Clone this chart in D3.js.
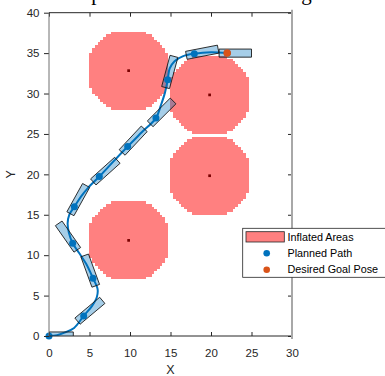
<!DOCTYPE html>
<html><head><meta charset="utf-8">
<script src="https://cdn.jsdelivr.net/npm/d3@7"></script>
<style>
body{margin:0;background:#fff;}
svg{display:block;font-family:"Liberation Sans",Arial,sans-serif;}
</style>
</head><body>
<svg id="c" width="385" height="376"></svg>
<script>
// ---------- data ----------
const titleText = "Feasible path around the obstacle grid";
const xTicks = [0, 5, 10, 15, 20, 25, 30];
const yTicks = [0, 5, 10, 15, 20, 25, 30, 35, 40];
const xLabel = "X", yLabel = "Y";

// obstacle cells (centres of the inflated areas)
const obstacleX = [9.83, 19.83, 19.83, 9.83];
const obstacleY = [32.83, 29.83, 19.83, 11.83];
const cellSize = 1 / 3;        // map resolution (3 cells per unit)
const inflateCells = 14;       // max cell offset of inflation
const inflateR2 = 235;         // squared inflation radius in cells

// planned path
const pathX = [0, 1.0, 1.9, 3.1, 4.28, 5.3, 5.9, 6.0, 5.43, 4.6, 3.7, 2.92, 2.45, 2.3, 2.5, 3.13, 3.95, 4.8, 6.21, 7.96, 9.71, 11.45, 13.2, 13.83, 14.3, 14.65, 14.9, 15.5, 16.5, 17.94, 20.0, 22.0];
const pathY = [0, 0.1, 0.41, 1.0, 2.48, 3.7, 4.8, 5.8, 7.15, 8.9, 10.3, 11.48, 12.8, 13.95, 15.0, 16.0, 17.25, 18.3, 19.73, 21.6, 23.44, 25.2, 26.96, 28.6, 30.05, 31.7, 33.1, 34.0, 34.6, 34.92, 35.1, 35.0];

// vehicle poses along the path
const poseX = [0, 4.28, 5.43, 2.92, 3.13, 6.21, 9.71, 13.2, 14.65, 17.94, 22];
const poseY = [0, 2.48, 7.15, 11.48, 16.0, 19.73, 23.44, 26.96, 31.7, 34.92, 35];
const poseTheta = [0, 40, 110, 125, 61, 42, 47, 45, 75, 11, 0];
const vehicleRear = 1, vehicleFront = 3, vehicleWidth = 1;

const goalX = [22], goalY = [35];
const legendLabels = ["Inflated Areas", "Planned Path", "Desired Goal Pose"];

// ---------- drawing ----------
const svg = d3.select("#c");
const x = d3.scaleLinear().domain([0, 30]).range([49, 292]);
const y = d3.scaleLinear().domain([0, 40]).range([336, 12.7]);
const axisColor = "#262626";

svg.append("defs").append("clipPath").attr("id", "plotclip")
  .append("rect").attr("x", x(0)).attr("y", y(40))
  .attr("width", x(30) - x(0)).attr("height", y(0) - y(40));

// title (above the window, only descenders show)
svg.append("text").attr("x", 16).attr("y", 0)
  .attr("font-family", "'Liberation Serif','Times New Roman',serif")
  .attr("font-size", 21).attr("fill", "#000").text(titleText);

const plot = svg.append("g").attr("clip-path", "url(#plotclip)");

// inflated areas as grid cells
const cells = [];
obstacleX.forEach((ox, k) => {
  const oy = obstacleY[k];
  for (let i = -inflateCells; i <= inflateCells; i++)
    for (let j = -inflateCells; j <= inflateCells; j++)
      if (i * i + j * j <= inflateR2) cells.push([ox + i * cellSize, oy + j * cellSize]);
});
plot.append("g").attr("shape-rendering", "crispEdges").selectAll("rect").data(cells).join("rect")
  .attr("x", d => x(d[0] - cellSize / 2))
  .attr("y", d => y(d[1] + cellSize / 2))
  .attr("width", d => x(d[0] + cellSize / 2) - x(d[0] - cellSize / 2))
  .attr("height", d => y(d[1] - cellSize / 2) - y(d[1] + cellSize / 2))
  .attr("fill", "#ff8080");

// obstacle centre cells
plot.append("g").selectAll("rect").data(obstacleX.map((v, i) => [v, obstacleY[i]])).join("rect")
  .attr("x", d => x(d[0] - cellSize / 2))
  .attr("y", d => y(d[1] + cellSize / 2))
  .attr("width", d => x(d[0] + cellSize / 2) - x(d[0] - cellSize / 2))
  .attr("height", d => y(d[1] - cellSize / 2) - y(d[1] + cellSize / 2))
  .attr("fill", "#7a0000");

// path line
const pathPts = pathX.map((v, i) => [v, pathY[i]]);
plot.append("path").datum(pathPts)
  .attr("d", d3.line().x(d => x(d[0])).y(d => y(d[1])).curve(d3.curveCatmullRom.alpha(0.5)))
  .attr("fill", "none").attr("stroke", "#0072BD").attr("stroke-width", 2);

// vehicle footprints
const poses = poseX.map((v, i) => ({ x: v, y: poseY[i], t: poseTheta[i] * Math.PI / 180 }));
function footprint(p) {
  const c = Math.cos(p.t), s = Math.sin(p.t), hw = vehicleWidth / 2;
  const pts = [[-vehicleRear, -hw], [vehicleFront, -hw], [vehicleFront, hw], [-vehicleRear, hw]];
  return pts.map(([a, b]) => [x(p.x + a * c - b * s), y(p.y + a * s + b * c)]);
}
plot.append("g").selectAll("polygon").data(poses).join("polygon")
  .attr("points", d => footprint(d).map(q => q.join(",")).join(" "))
  .attr("fill", "#0072BD").attr("fill-opacity", 0.35)
  .attr("stroke", "#1a1a1a").attr("stroke-width", 0.9);

// pose markers (not clipped)
svg.append("g").selectAll("circle").data(poses).join("circle")
  .attr("cx", d => x(d.x)).attr("cy", d => y(d.y)).attr("r", 3.5)
  .attr("fill", "#0072BD");
svg.append("g").selectAll("circle").data(goalX.map((v, i) => [v, goalY[i]])).join("circle")
  .attr("cx", d => x(d[0])).attr("cy", d => y(d[1])).attr("r", 3.8)
  .attr("fill", "#D95319");

// axes
function styleAxis(g) {
  g.selectAll("text").attr("fill", axisColor).attr("font-size", 11.5)
    .attr("font-family", "'Liberation Sans',Arial,sans-serif");
  g.selectAll("line").attr("stroke", axisColor);
  g.select(".domain").remove();
}
svg.append("g").attr("transform", `translate(0,${y(0)})`)
  .call(d3.axisBottom(x).tickValues(xTicks).tickSizeInner(-4).tickSizeOuter(0).tickPadding(13))
  .call(styleAxis);
svg.append("g").attr("transform", `translate(${x(0)},0)`)
  .call(d3.axisLeft(y).tickValues(yTicks).tickSizeInner(5).tickSizeOuter(0).tickPadding(4.5))
  .call(styleAxis);
svg.append("g").attr("transform", `translate(0,${y(40)})`)
  .call(d3.axisTop(x).tickValues(xTicks).tickSizeInner(-4).tickSizeOuter(0).tickFormat(""))
  .call(styleAxis);
svg.append("g").attr("transform", `translate(${x(30)},0)`)
  .call(d3.axisRight(y).tickValues(yTicks).tickSizeInner(-4).tickSizeOuter(0).tickFormat(""))
  .call(styleAxis);

// frame lines
svg.append("line").attr("x1", x(0)).attr("x2", x(30)).attr("y1", y(0)).attr("y2", y(0)).attr("stroke", axisColor);
svg.append("line").attr("x1", x(0)).attr("x2", x(30)).attr("y1", y(40)).attr("y2", y(40)).attr("stroke", axisColor);
svg.append("line").attr("x1", x(0)).attr("x2", x(0)).attr("y1", y(0)).attr("y2", y(40)).attr("stroke", "#707070");
svg.append("line").attr("x1", x(30)).attr("x2", x(30)).attr("y1", y(0) + 3).attr("y2", y(40) - 3).attr("stroke", "#a8a8a8").attr("stroke-width", 2);

// axis labels
svg.append("text").attr("x", x(15)).attr("y", 373.5).attr("text-anchor", "middle")
  .attr("font-size", 12.5).attr("fill", axisColor).text(xLabel);
svg.append("text").attr("transform", `translate(15,${(y(0) + y(40)) / 2}) rotate(-90)`)
  .attr("text-anchor", "middle").attr("font-size", 12.5).attr("fill", axisColor).text(yLabel);

// legend
const lg = svg.append("g");
lg.append("rect").attr("x", 242.7).attr("y", 228.3).attr("width", 145).attr("height", 49)
  .attr("fill", "#fff").attr("stroke", axisColor).attr("stroke-width", 0.8);
lg.append("rect").attr("x", 246).attr("y", 231.7).attr("width", 38.3).attr("height", 10.3)
  .attr("fill", "#ff8080").attr("stroke", axisColor).attr("stroke-width", 0.8);
lg.append("circle").attr("cx", 266.7).attr("cy", 253.3).attr("r", 3.3).attr("fill", "#0072BD");
lg.append("circle").attr("cx", 266.7).attr("cy", 269.7).attr("r", 3.3).attr("fill", "#D95319");
const lgY = [240.5, 257, 273];
lg.selectAll("text").data(legendLabels).join("text")
  .attr("x", 287.5).attr("y", (d, i) => lgY[i])
  .attr("font-size", 10.8).attr("fill", "#000").text(d => d);
</script>
</body></html>
